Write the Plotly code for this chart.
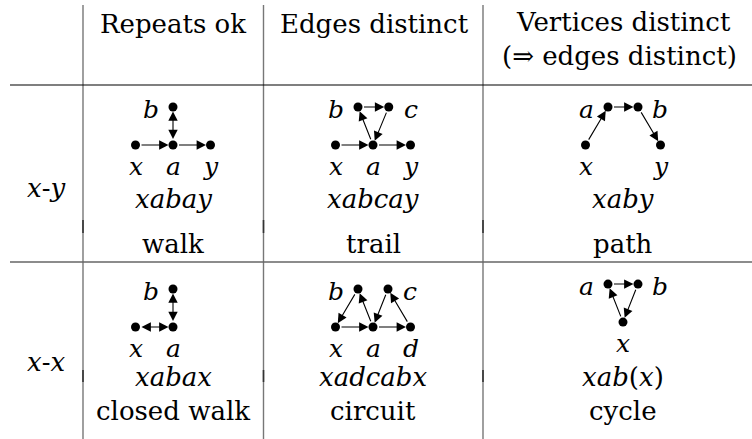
import re
import plotly.graph_objects as go

W, H = 752, 439

# table text
header_lines = [
    ("Repeats ok", 173, 24),
    ("Edges distinct", 374, 24),
    ("Vertices distinct", 623, 22),
    ("(⇒ edges distinct)", 619, 56),
]
row_labels = ["x-y", "x-x"]
sequences = [["xabay", "xabcay", "xaby"], ["xabax", "xadcabx", "xab(x)"]]
names = [["walk", "trail", "path"], ["closed walk", "circuit", "cycle"]]

# small graphs: nodes (name, dx, dy in grid units, label side), edges (tail, head, heads)
walk_nodes = [("x", -1, 0, "below"), ("a", 0, 0, "below"), ("y", 1, 0, "below"), ("b", 0, 1, "left")]
walk_edges = [("x", "a", 1), ("a", "y", 1), ("a", "b", 2)]

trail_nodes = [("x", -1, 0, "below"), ("a", 0, 0, "below"), ("y", 1, 0, "below"),
               ("b", -0.4, 1, "left"), ("c", 0.42, 1, "right")]
trail_edges = [("x", "a", 1), ("a", "b", 1), ("b", "c", 1), ("c", "a", 1), ("a", "y", 1)]

path_nodes = [("x", -1, 0, "below"), ("a", -0.4, 1, "left"), ("b", 0.4, 1, "right"), ("y", 1, 0, "below")]
path_edges = [("x", "a", 1), ("a", "b", 1), ("b", "y", 1)]

cwalk_nodes = [("x", -1, 0, "below"), ("a", 0, 0, "below"), ("b", 0, 1, "left")]
cwalk_edges = [("x", "a", 2), ("a", "b", 2)]

circuit_nodes = [("x", -1, 0, "below"), ("a", 0, 0, "below"), ("d", 1, 0, "below"),
                 ("b", -0.4, 1, "left"), ("c", 0.4, 1, "right")]
circuit_edges = [("x", "a", 1), ("a", "b", 1), ("b", "x", 1), ("a", "d", 1), ("d", "c", 1), ("c", "a", 1)]

cycle_nodes = [("a", -0.4, 1.13, "left"), ("b", 0.4, 1.13, "right"), ("x", 0, 0.13, "below")]
cycle_edges = [("a", "b", 1), ("b", "x", 1), ("x", "a", 1)]

graphs = [[(walk_nodes, walk_edges), (trail_nodes, trail_edges), (path_nodes, path_edges)],
          [(cwalk_nodes, cwalk_edges), (circuit_nodes, circuit_edges), (cycle_nodes, cycle_edges)]]

# layout (pixels)
col_x = [173, 373, 623]
base_y = [145, 327]
seq_y = [199, 377]
name_y = [244, 411]
row_label_y = [188, 362]
UX, UY = 37.5, 38

FONT = "DejaVu Serif"
FS = 26
FS_NODE = 25


def math(s):
    # italic letters, roman punctuation, like TeX math
    return re.sub(r"([A-Za-z]+)", r"<i>\1</i>", s)


def text(x, y, s, size=FS):
    return dict(x=x, y=y, xref="x", yref="y", text=s, showarrow=False,
                xanchor="center", yanchor="middle", font=dict(family=FONT, size=size, color="black"))


fig = go.Figure()
annotations = []
shapes = []

# grid lines
for vx in [83, 263.5, 483]:
    shapes.append(dict(type="line", x0=vx, x1=vx, y0=5, y1=H, xref="x", yref="y",
                       line=dict(color="#777777", width=1.4)))
    for y0, y1 in [(220, 233), (370, 382)]:
        shapes.append(dict(type="line", x0=vx, x1=vx, y0=y0, y1=y1, xref="x", yref="y",
                           line=dict(color="#333333", width=1.6)))
shapes.append(dict(type="line", x0=10, x1=W, y0=85, y1=85, xref="x", yref="y",
                   line=dict(color="black", width=1.2)))
shapes.append(dict(type="line", x0=10, x1=W, y0=262, y1=262, xref="x", yref="y",
                   line=dict(color="#666666", width=1.3)))

for s, x, y in header_lines:
    annotations.append(text(x, y, s))

for r in range(2):
    annotations.append(text(46, row_label_y[r], math(row_labels[r])))
    for c in range(3):
        cx, by = col_x[c], base_y[r]
        annotations.append(text(cx, seq_y[r], math(sequences[r][c])))
        annotations.append(text(cx, name_y[r], names[r][c]))

        nodes, edges = graphs[r][c]
        pos = {n: (cx + dx * UX, by - dy * UY) for n, dx, dy, _ in nodes}
        for n, dx, dy, side in nodes:
            px, py = pos[n]
            if side == "below":
                lx, ly = px, py + 21
            elif side == "left":
                lx, ly = px - 22, py + 2
            else:
                lx, ly = px + 22, py + 2
            annotations.append(text(lx, ly, math(n), FS_NODE))

        for t, h, heads in edges:
            tx, ty = pos[t]
            hx, hy = pos[h]
            annotations.append(dict(
                x=hx, y=hy, ax=tx, ay=ty, xref="x", yref="y", axref="x", ayref="y",
                text="", showarrow=True, arrowcolor="black", arrowwidth=1.1,
                arrowhead=2, arrowsize=1.7, standoff=4.5,
                arrowside="end+start" if heads == 2 else "end",
                startarrowhead=2, startarrowsize=1.7, startstandoff=4.5,
            ))

        fig.add_trace(go.Scatter(
            x=[pos[n][0] for n, *_ in nodes],
            y=[pos[n][1] for n, *_ in nodes],
            mode="markers",
            marker=dict(size=9, color="black"),
            hoverinfo="skip",
            showlegend=False,
        ))

fig.update_layout(
    width=W, height=H,
    margin=dict(l=0, r=0, t=0, b=0),
    paper_bgcolor="white", plot_bgcolor="white",
    xaxis=dict(range=[0, W], visible=False, fixedrange=True),
    yaxis=dict(range=[H, 0], visible=False, fixedrange=True),
    shapes=shapes,
    annotations=annotations,
    showlegend=False,
)

# page margin off so the figure sits at the window's corner
fig.write_html("out.html", config={"displayModeBar": False},
               post_script="document.body.style.margin = '0';")
